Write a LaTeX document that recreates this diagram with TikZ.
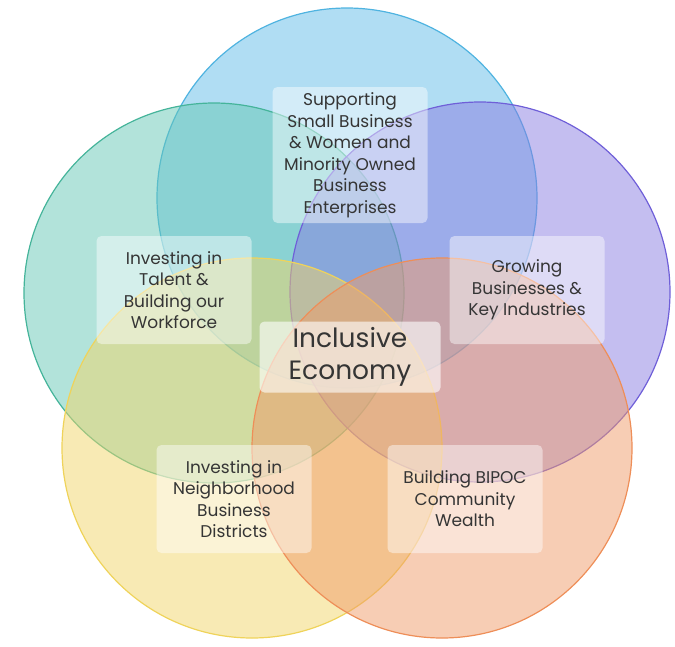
\documentclass[tikz,border=0pt]{standalone}
\usepackage{fontspec}
\setmainfont{Poppins}
\usetikzlibrary{positioning}

\definecolor{blueFill}{HTML}{61BBE7}
\definecolor{blueEdge}{HTML}{4FB3E0}
\definecolor{greenFill}{HTML}{65C7B5}
\definecolor{greenEdge}{HTML}{45B49A}
\definecolor{purpleFill}{HTML}{897DE1}
\definecolor{purpleEdge}{HTML}{6F5FD8}
\definecolor{yellowFill}{HTML}{F1D569}
\definecolor{yellowEdge}{HTML}{EFD35A}
\definecolor{orangeFill}{HTML}{EF9B69}
\definecolor{orangeEdge}{HTML}{EE8E58}
\definecolor{textGray}{HTML}{353535}

\begin{document}
\begin{tikzpicture}[x=1pt,y=-1pt,
    ring/.style={circle, line width=1.2pt, fill opacity=0.5, minimum size=380pt, inner sep=0pt},
    tagbox/.style={rectangle, rounded corners=5pt, fill=white, fill opacity=0.45,
      text opacity=1, text=textGray, align=center, minimum width=155pt,
      minimum height=108pt, font=\fontsize{17}{21.5}\selectfont}]

      % Canvas
      \useasboundingbox (0,0) rectangle (675,646);

      % Variables
      \def \midx  {347}
      \def \sidex {133}
      \def \lowx  {95}

      % Circles
      \node[ring, draw=blueEdge, fill=blueFill] (smallring) at (\midx,198) {};
      \node[ring, draw=greenEdge, fill=greenFill] (talent) at (\midx-\sidex,293) {};
      \node[ring, draw=purpleEdge, fill=purpleFill] (growth) at (\midx+\sidex,292) {};
      \node[ring, draw=yellowEdge, fill=yellowFill] (district) at (\midx-\lowx,448) {};
      \node[ring, draw=orangeEdge, fill=orangeFill] (wealth) at (\midx+\lowx,448) {};

      % Text boxes
      \node[tagbox, minimum height=136pt] (smallbiz) at (350,155)
        {Supporting\\Small Business\\\& Women and\\Minority Owned\\Business\\Enterprises};
      \node[tagbox] (workforce) at (174,290) {Investing in\\Talent \&\\Building our\\Workforce};
      \node[tagbox] (industries) at (527,290) {Growing\\Businesses \&\\Key Industries};
      \node[tagbox] (neighborhood) at (234,499) {Investing in\\Neighborhood\\Business\\Districts};
      \node[tagbox] (bipoc) at (465,499) {Building BIPOC\\Community\\Wealth};

      % Centre
      \node[tagbox, minimum width=181pt, minimum height=71pt, fill opacity=0.6,
        font=\fontsize{26.5}{32}\selectfont] (economy) at (350,357) {Inclusive\\Economy};

\end{tikzpicture}
\end{document}
